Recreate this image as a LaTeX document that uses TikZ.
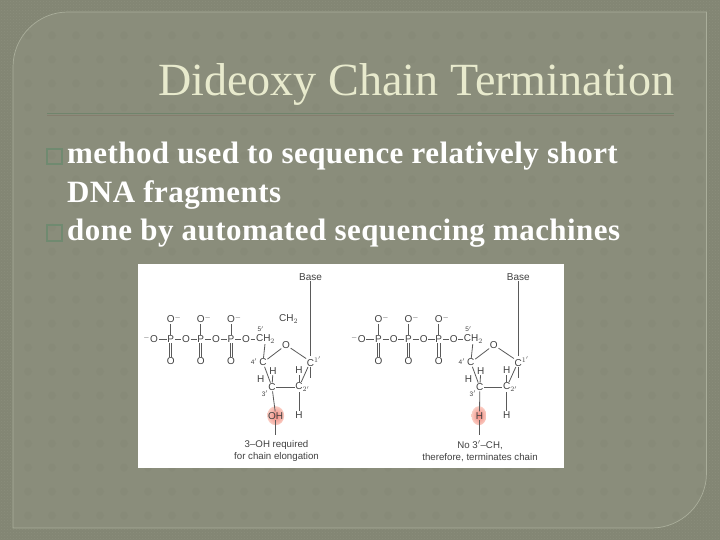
\documentclass[tikz,border=0pt]{standalone}
\usepackage{fontspec}
\setmainfont{Liberation Serif}
\setsansfont{Liberation Sans}
\usetikzlibrary{positioning,patterns}
\definecolor{slideout}{RGB}{131,134,116}
\definecolor{slidedot}{RGB}{139,142,124}
\definecolor{slidein}{RGB}{138,141,123}
\definecolor{slidering}{RGB}{135,138,120}
\definecolor{slideedge}{RGB}{170,174,155}
\definecolor{titlecol}{RGB}{232,234,205}
\definecolor{rulegreen}{RGB}{112,132,108}
\definecolor{rulebrown}{RGB}{132,126,110}
\definecolor{bulletcol}{RGB}{112,138,112}
\definecolor{inkcol}{RGB}{65,65,65}
\definecolor{bondcol}{RGB}{90,90,90}
\definecolor{glowcol}{RGB}{240,135,125}
\definecolor{glowedge}{RGB}{250,205,195}
\tikzset{
bodyline/.style={anchor=base west,inner sep=0pt,text=white,font=\fontsize{31}{33}\selectfont\bfseries\addfontfeature{LetterSpace=1.4}},
bulletbox/.style={draw=bulletcol,line width=1.7pt,minimum size=15.5pt,inner sep=0pt},
atom/.style={inner sep=0.6pt,text=inkcol,font=\sffamily\fontsize{10}{11}\selectfont},
tiny/.style={inner sep=0pt,text=inkcol,font=\sffamily\fontsize{6.5}{7}\selectfont},
note/.style={inner sep=0pt,text=inkcol,align=center,font=\sffamily\fontsize{9.7}{12}\selectfont},
bond/.style={draw=bondcol,line width=0.8pt}
}
% one nucleotide: #1 name prefix, #2 shift in x
\newcommand{\drawchain}[2]{
\begin{scope}[xshift=#2pt,name prefix=#1]
\node (Ominus) [atom] at (154,339) {\llap{$^{-}$}O};
\foreach \n/\x in {a/170.7,b/200.7,c/231} {
\node (P\n) [atom] at (\x,339) {P};
\node (top\n) [atom] at (\x,319) {O\rlap{$^{-}$}};
\node (low\n) [atom] at (\x,361.5) {O};
\draw [bond] (P\n) -- (top\n);
\draw [bond] ([xshift=-1.1pt]P\n.south) -- ([xshift=-1.1pt]low\n.north);
\draw [bond] ([xshift=1.1pt]P\n.south) -- ([xshift=1.1pt]low\n.north);
}
\node (Oab) [atom] at (186,339) {O};
\node (Obc) [atom] at (216,339) {O};
\node (Ocd) [atom] at (246,339) {O};
\node (CH) [atom] at (265.5,339) {CH$_2$};
\node (five) [tiny] at (260.7,329) {5$'$};
\node (ring) [atom] at (286,345) {O};
\node (Cone) [atom] at (310.5,361.5) {C\rlap{$^{1'}$}};
\node (Cfour) [atom] at (263,362.5) {C};
\node (Cthree) [atom] at (272,387) {C};
\node (Ctwo) [atom] at (299,387) {C\rlap{$_{2'}$}};
\node (Hfour) [atom] at (273,371) {H};
\node (Hthree) [atom] at (260.7,379) {H};
\node (Hone) [atom] at (299,370.5) {H};
\node (Hlow) [atom] at (299,415.5) {H};
\node (four) [tiny] at (254,361.5) {4$'$};
\node (three) [tiny] at (265,393.5) {3$'$};
\node (Base) [atom] at (310.5,276.7) {Base};
\coordinate (stub) at (310.5,378);
\draw [bond] (Ominus) -- (Pa);
\draw [bond] (Pa) -- (Oab) (Oab) -- (Pb) (Pb) -- (Obc) (Obc) -- (Pc) (Pc) -- (Ocd) (Ocd) -- (CH);
\draw [bond] (CH) -- (Cfour);
\draw [bond] (Cfour) -- (ring);
\draw [bond] (ring) -- (Cone);
\draw [bond] (Cfour) -- (Cthree);
\draw [bond] (Cthree) -- (Hfour);
\draw [bond] (Cthree) -- (Ctwo);
\draw [bond] (Ctwo) -- (Cone);
\draw [bond] (Ctwo) -- (Hone);
\draw [bond] (Ctwo) -- (Hlow);
\draw [bond] (Base) -- (Cone);
\draw [bond] (Cone) -- (stub);
\end{scope}
}
\newcommand{\panelpath}{(706.5,12) -- (706.5,400) [rounded corners=55pt] -- (706.5,528) [sharp corners] -- (13,528) -- (13,300) [rounded corners=55pt] -- (13,12) [sharp corners] -- cycle}

\begin{document}
\begin{tikzpicture}[x=1pt,y=-1pt]
\useasboundingbox (0,0) rectangle (720,540);
%----------------------------------------------------------------------------
% Background
\fill [slideout] (0,0) rectangle (720,540);
\fill [pattern=crosshatch dots,pattern color=slidedot] (0,0) rectangle (720,540);
\fill [slidein] \panelpath;
\begin{scope}
\clip \panelpath;
\foreach \i in {0,...,28} {
\foreach \j in {0,...,20} {
\fill [slidering] (28+24*\i,35.5+24*\j) circle (4pt);
}
}
\end{scope}
\draw [slideedge,line width=0.7pt] \panelpath;

%----------------------------------------------------------------------------
% Placement of text nodes
\node (heading) [anchor=base east,inner sep=0pt,text=titlecol,font=\fontsize{46.1}{48}\selectfont] at (675,96) {Dideoxy Chain Termination};
\node (lineA) [bodyline] at (67,163.3) {method used to sequence relatively short};
\node (lineB) [bodyline] at (67,202.7) {DNA fragments};
\node (lineC) [bodyline] at (67,240.5) {done by automated sequencing machines};
\node (bulletA) [bulletbox] at (54.5,156.5) {};
\node (bulletC) [bulletbox] at (54.5,233) {};
\coordinate (ruleL) at (47,113.5);
\coordinate (ruleR) at (674,113.5);

%----------------------------------------------------------------------------
% Lines
\draw [rulegreen,line width=1.6pt] (ruleL) -- (ruleR);
\draw [rulebrown,line width=1pt] ([yshift=-2pt]ruleL) -- ([yshift=-2pt]ruleR);

%----------------------------------------------------------------------------
% Picture
\node (photo) [fill=white,inner sep=0pt,minimum width=426pt,minimum height=204pt] at (351,366) {};
\shade [inner color=glowcol,outer color=glowedge] (275.7,415.7) ellipse (8.5pt and 9.5pt);
\shade [inner color=glowcol,outer color=glowedge] (479,415.7) ellipse (7.5pt and 9.5pt);
\drawchain{L}{0}
\drawchain{R}{207.8}

\node (CHextra) [atom] at (288.7,319) {CH$_2$};
\node (OH) [atom] at (275.7,415.7) {OH};
\node (noteL) [note] at (276.5,451) {3--OH required\\for chain elongation};
\coordinate (tailL) at (275.7,435);
\draw [bond] (LCthree) -- (OH);
\draw [bond] (OH) -- (tailL);
\node (Hred) [atom] at (479.5,415.7) {H};
\node (noteR) [note] at (480,451) {No 3$'$--CH,\\therefore, terminates chain};
\coordinate (tailR) at (479.5,435);
\draw [bond] (RCthree) -- (Hred);
\draw [bond] (Hred) -- (tailR);

\end{tikzpicture}
\end{document}
